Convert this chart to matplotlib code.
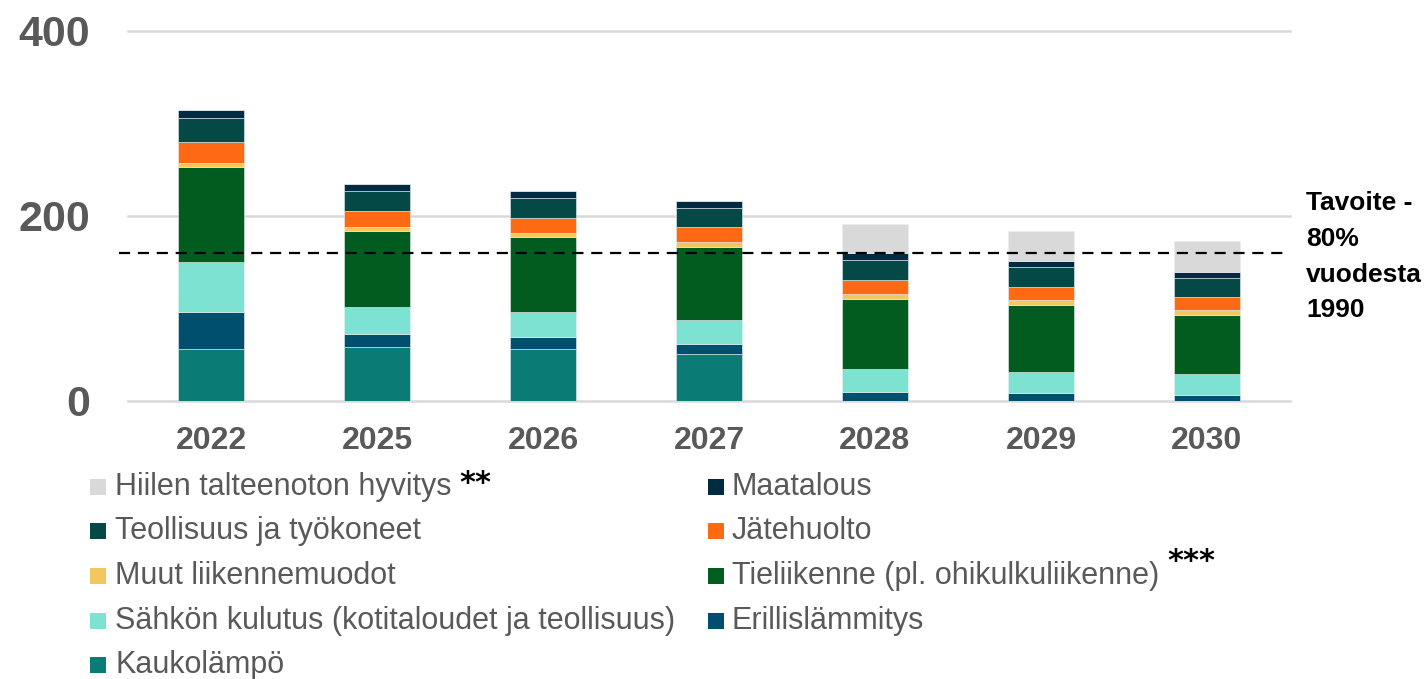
import numpy as np
import matplotlib
matplotlib.use("Agg")
import matplotlib.pyplot as plt
from matplotlib.patches import Rectangle

plt.rcParams['font.family'] = ['Liberation Sans', 'DejaVu Sans']

W, H = 1425, 679

years = ['2022', '2025', '2026', '2027', '2028', '2029', '2030']

# stacked bottom -> top
kaukolampo = [56, 58, 56, 50.5, 0, 0, 0]
erillislammitys = [40, 14.3, 12.6, 10.8, 9.4, 8, 6.5]
sahko = [54, 29.2, 27.4, 25.9, 24.9, 23.4, 22]
tieliikenne = [102.6, 81.9, 80.7, 79.3, 76, 72.4, 64.5]
muut_liikenne = [5, 4.3, 5, 5.1, 4.7, 4.7, 4.7]
jatehuolto = [22.7, 17.6, 16, 16.1, 15.5, 14.7, 14.1]
teollisuus = [26, 22.1, 22, 20.8, 21.3, 21, 20.5]
maatalous = [8, 7.5, 7.2, 7.6, 7.6, 6.8, 6.8]
hiilen_hyvitys = [0, 0, 0, 0, 32, 32.8, 33.2]

target = 159.5

series = [
    ("Kaukolämpö", kaukolampo, "#0a7b75"),
    ("Erillislämmitys", erillislammitys, "#014f6f"),
    ("Sähkön kulutus (kotitaloudet ja teollisuus)", sahko, "#7de2d2"),
    ("Tieliikenne (pl. ohikulkuliikenne)", tieliikenne, "#035c1f"),
    ("Muut liikennemuodot", muut_liikenne, "#f2c75e"),
    ("Jätehuolto", jatehuolto, "#fe6a14"),
    ("Teollisuus ja työkoneet", teollisuus, "#054947"),
    ("Maatalous", maatalous, "#012b42"),
    ("Hiilen talteenoton hyvitys", hiilen_hyvitys, "#d9d9d9"),
]

fig = plt.figure(figsize=(W / 100, H / 100), dpi=100)
ax = fig.add_axes([128 / W, 1 - 400.7 / H, (1290 - 128) / W, (400.7 - 31) / H])

x = np.arange(len(years))
bottom = np.zeros(len(years))
for name, vals, col in series:
    vals = np.array(vals, dtype=float)
    ax.bar(x, vals, 0.4, bottom=bottom, color=col, edgecolor="#e8f0f0",
           linewidth=0.4, zorder=2)
    bottom += vals

ax.set_xlim(-0.5, 6.5)
ax.set_ylim(0, 400)
for s in ax.spines.values():
    s.set_visible(False)

yt = [0, 200, 400]
for v in yt:
    ax.axhline(v, color="#d9d9d9", lw=1.8, zorder=1, clip_on=False)
ax.set_yticks(yt)
ax.set_yticklabels([str(v) for v in yt], fontsize=31, fontweight="bold", color="#595959")
ax.set_xticks(x)
ax.set_xticklabels(years, fontsize=23, fontweight="bold", color="#595959")
ax.tick_params(axis="y", length=0, pad=27)
ax.tick_params(axis="x", length=0, pad=18)

# target line
ax.plot([-0.555, 6.48], [target, target], color="black", lw=1.6,
        dashes=(5, 3.5), zorder=3, clip_on=False)
fig.text(1306 / W, 1 - 191 / H, "Tavoite -\n80%\nvuodesta\n1990",
         fontsize=19, fontweight="bold", color="black", va="top", ha="left",
         linespacing=1.62)

# legend (row-wise, top series first)
leg = list(reversed(series))
rows_y = [487, 531, 576, 621, 665]
col_marker_x = [90, 708]
col_text_x = [115, 732]
texts = {}
for i, (name, vals, col) in enumerate(leg):
    r, c = divmod(i, 2)
    yc = rows_y[r]
    fig.add_artist(Rectangle((col_marker_x[c] / W, 1 - (yc + 8) / H), 16 / W, 16 / H,
                             transform=fig.transFigure, color=col, lw=0))
    texts[name] = fig.text(col_text_x[c] / W, 1 - yc / H, name, fontsize=22,
                           color="#595959", va="center", ha="left")

fig.canvas.draw()
r = fig.canvas.get_renderer()
bb = texts["Hiilen talteenoton hyvitys"].get_window_extent(r)
fig.text((bb.x1 + 8) / W, 1 - 484 / H, "**", fontsize=22, fontweight="bold",
         family="DejaVu Sans", color="black", va="center", ha="left")
bb = texts["Tieliikenne (pl. ohikulkuliikenne)"].get_window_extent(r)
fig.text((bb.x1 + 8) / W, 1 - 562 / H, "***", fontsize=22, fontweight="bold",
         family="DejaVu Sans", color="black", va="center", ha="left")

fig.savefig("out.png", dpi=100)
